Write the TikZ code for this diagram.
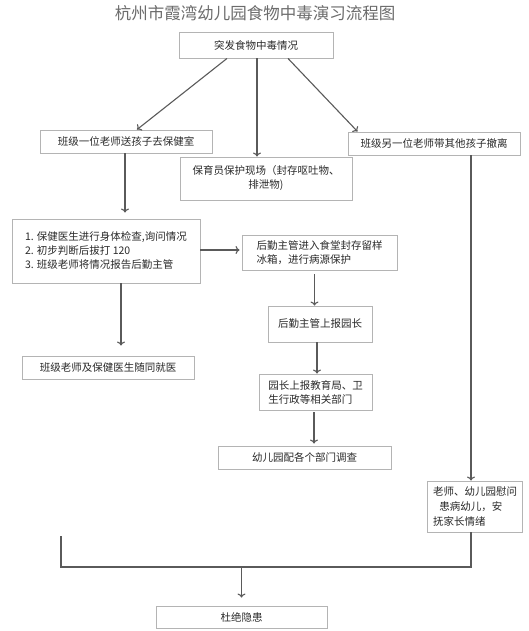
\documentclass[tikz,border=0pt]{standalone}
\usepackage{fontspec}
\setmainfont{Noto Sans CJK SC}
\usetikzlibrary{calc,arrows.meta}
\definecolor{boxgray}{HTML}{B4B4B4}
\definecolor{linegray}{HTML}{5A5A5A}
\definecolor{textgray}{HTML}{2A2A2A}
\tikzset{
    stepbox/.style={draw=boxgray, line width=0.9pt, inner sep=2pt, text=textgray,
        font=\fontsize{10.5}{14}\selectfont},
    flow/.style={-{To[length=4pt, width=8pt]}, line width=1.1pt, draw=linegray},
    joint/.style={line width=1.1pt, draw=linegray}
}
\begin{document}
\begin{tikzpicture}[x=1pt, y=-1pt]
    \useasboundingbox[fill=white] (0,0) rectangle (528,631);

    % 标题
    \node[text=gray!85!black, font=\fontsize{16.5}{18}\selectfont] (title) at (255,13) {杭州市霞湾幼儿园食物中毒演习流程图};

    % 第一层
    \node[stepbox, minimum width=154pt, minimum height=26pt] (start) at (256,45) {突发食物中毒情况};
    \node[stepbox, minimum width=172pt, minimum height=23pt] (send) at (126,141.5) {班级一位老师送孩子去保健室};
    \node[stepbox, minimum width=172pt, minimum height=43pt, align=center] (guard) at (266,178.5) {保育员保护现场（封存呕吐物、\\排泄物)};
    \node[stepbox, minimum width=172pt, minimum height=23pt] (evac) at (434,143.5) {班级另一位老师带其他孩子撤离};

    % 左侧
    \node[stepbox, minimum width=188pt, minimum height=64pt, align=left] (check) at (106,251) {1. 保健医生进行身体检查,询问情况\\2. 初步判断后拔打 120\\3. 班级老师将情况报告后勤主管};
    \node[stepbox, minimum width=172pt, minimum height=23pt] (hosp) at (108,367.5) {班级老师及保健医生随同就医};

    % 中间
    \node[stepbox, minimum width=155pt, minimum height=35pt, align=left] (seal) at (319.5,252.5) {后勤主管进入食堂封存留样\\冰箱，进行病源保护};
    \node[stepbox, minimum width=104pt, minimum height=36pt] (report) at (320,324) {后勤主管上报园长};
    \node[stepbox, minimum width=113pt, minimum height=36pt, align=left] (dept) at (315.5,392) {园长上报教育局、卫\\生行政等相关部门};
    \node[stepbox, minimum width=173pt, minimum height=23pt] (probe) at (304.5,457.5) {幼儿园配各个部门调查};

    % 右侧
    \node[stepbox, minimum width=95pt, minimum height=51pt, align=left,
        font=\fontsize{10.5}{15}\selectfont] (comfort) at (475,506.5) {老师、幼儿园慰问\\\hspace{0.6em}患病幼儿，安\\抚家长情绪};

    % 结束
    \node[stepbox, minimum width=171pt, minimum height=22pt] (end) at (241.5,617) {杜绝隐患};

    % 出发点
    \coordinate (s1) at ($(start.south)+(-29,0)$);
    \coordinate (s2) at ($(start.south)+(1,0)$);
    \coordinate (s3) at ($(start.south)+(32,0)$);
    \coordinate (s4) at ($(send.south)+(-1,0)$);
    \coordinate (s5) at ($(check.east)+(0,-1)$);
    \coordinate (s6) at ($(seal.south)+(-5,0)$);
    \coordinate (s7) at ($(report.south)+(-3,0)$);
    \coordinate (s8) at ($(dept.south)+(-1.5,0)$);
    \coordinate (s9) at ($(check.south)+(15,0)$);
    \coordinate (s10) at ($(evac.south)+(37,0)$);
    \coordinate (s11) at ($(comfort.south)+(-4,0)$);

    % 箭头
    \draw[flow] (s1) -- ($(send.north)+(11,0)$);
    \draw[flow] (s2) -- (s2 |- guard.north);
    \draw[flow] (s3) -- ($(evac.north west)+(10,0)$);
    \draw[flow, shorten >=6pt] (s4) -- (s4 |- check.north);
    \draw[flow, shorten >=2pt] (s5) -- (s5 -| seal.west);
    \draw[flow, shorten <=4pt] (s6) -- (s6 |- report.north);
    \draw[flow] (s7) -- (s7 |- dept.north);
    \draw[flow, shorten <=2pt, shorten >=2pt] (s8) -- (s8 |- probe.north);
    \draw[flow, shorten >=10pt] (s9) -- (s9 |- hosp.north);
    \draw[flow] (s10) -- (s10 |- comfort.north);

    % 汇合
    \coordinate (leftend) at (61,536);
    \coordinate (leftjoin) at (61,567);
    \coordinate (rightjoin) at (s11 |- leftjoin);
    \coordinate (midjoin) at (end.north |- leftjoin);
    \draw[joint] (leftend) -- (leftjoin) -- (rightjoin) -- (s11);
    \draw[flow, shorten >=8pt] (midjoin) -- (end.north);
\end{tikzpicture}
\end{document}
